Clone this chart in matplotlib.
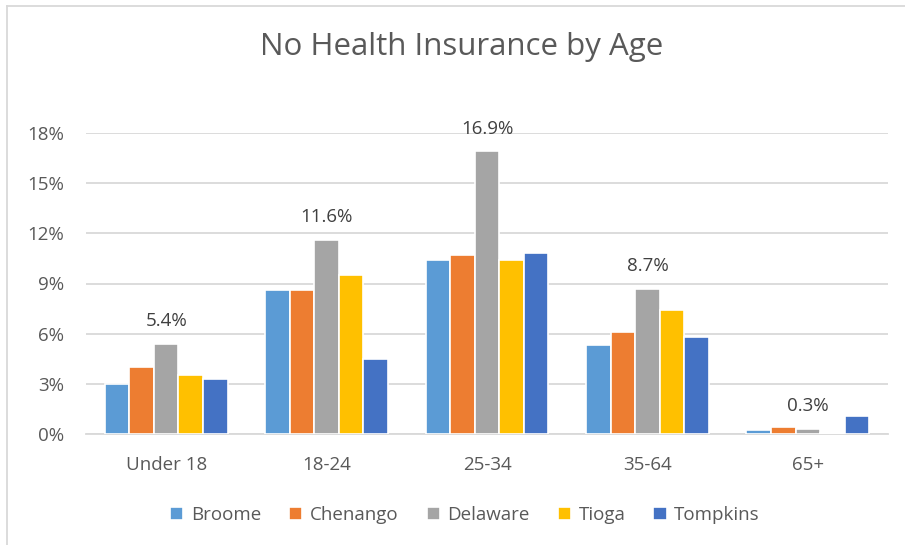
import matplotlib.pyplot as plt
from matplotlib.lines import Line2D
import numpy as np

# age groups and county values (percent)
ages = ["Under 18", "18-24", "25-34", "35-64", "65+"]
counties = ["Broome", "Chenango", "Delaware", "Tioga", "Tompkins"]
broome = [3.0, 8.6, 10.4, 5.3, 0.25]
chenango = [4.0, 8.6, 10.7, 6.1, 0.4]
delaware = [5.4, 11.6, 16.9, 8.7, 0.3]
tioga = [3.5, 9.5, 10.4, 7.4, 0.05]
tompkins = [3.3, 4.5, 10.8, 5.8, 1.1]
colors = ["#5b9bd5", "#ed7d31", "#a5a5a5", "#ffc000", "#4472c4"]

plt.rcParams['font.family'] = ['Open Sans', 'DejaVu Sans']

W, H = 905, 545
fig = plt.figure(figsize=(W / 100, H / 100), dpi=100)
ax = fig.add_axes([86 / W, 1 - 434 / H, 802 / W, (434 - 133) / H])

x = np.arange(len(ages))
step = 0.153
series = [broome, chenango, delaware, tioga, tompkins]
for i, (name, vals) in enumerate(zip(counties, series)):
    bars = ax.bar(x + (i - 2) * step, vals, width=step, color=colors[i],
                  edgecolor="white", linewidth=1.2, label=name, zorder=3)
    if name == "Delaware":
        for xi, v in zip(x, vals):
            ax.annotate(f"{v:.1f}%", (xi + (i - 2) * step, v), xytext=(0, 10),
                        textcoords="offset points", ha="center", va="bottom",
                        fontsize=13.5, color="#404040")

ax.set_xlim(-0.5, 4.5)
ax.set_ylim(0, 18)
ax.set_yticks(range(0, 19, 3))
ax.set_yticklabels([f"{t}%" for t in range(0, 19, 3)])
ax.set_xticks(x)
ax.set_xticklabels(ages)
ax.tick_params(axis="both", length=0, labelsize=13.5, colors="#595959")
ax.tick_params(axis="y", pad=16)
ax.tick_params(axis="x", pad=16)
ax.grid(axis="y", color="#d9d9d9", linewidth=1.3, zorder=0)
for s in ["top", "right", "left"]:
    ax.spines[s].set_visible(False)
ax.spines["bottom"].set_color("#d9d9d9")
ax.spines["bottom"].set_linewidth(1.3)

fig.text(462 / W, 1 - 47 / H, "No Health Insurance by Age", ha="center",
         va="center", fontsize=22.5, color="#595959")

fig.legend(loc="center", bbox_to_anchor=(465 / W, 1 - 515 / H), ncol=5,
           frameon=False, fontsize=13.5, handlelength=0.7, handleheight=0.7,
           columnspacing=1.5, handletextpad=0.4, labelcolor="#595959")

# chart border
fig.add_artist(Line2D([7 / W, 7 / W], [0, 1 - 6 / H], color="#d9d9d9", lw=1.3,
                      transform=fig.transFigure))
fig.add_artist(Line2D([7 / W, 1], [1 - 6 / H, 1 - 6 / H], color="#d9d9d9", lw=1.3,
                      transform=fig.transFigure))

fig.savefig("out.png", dpi=100)
